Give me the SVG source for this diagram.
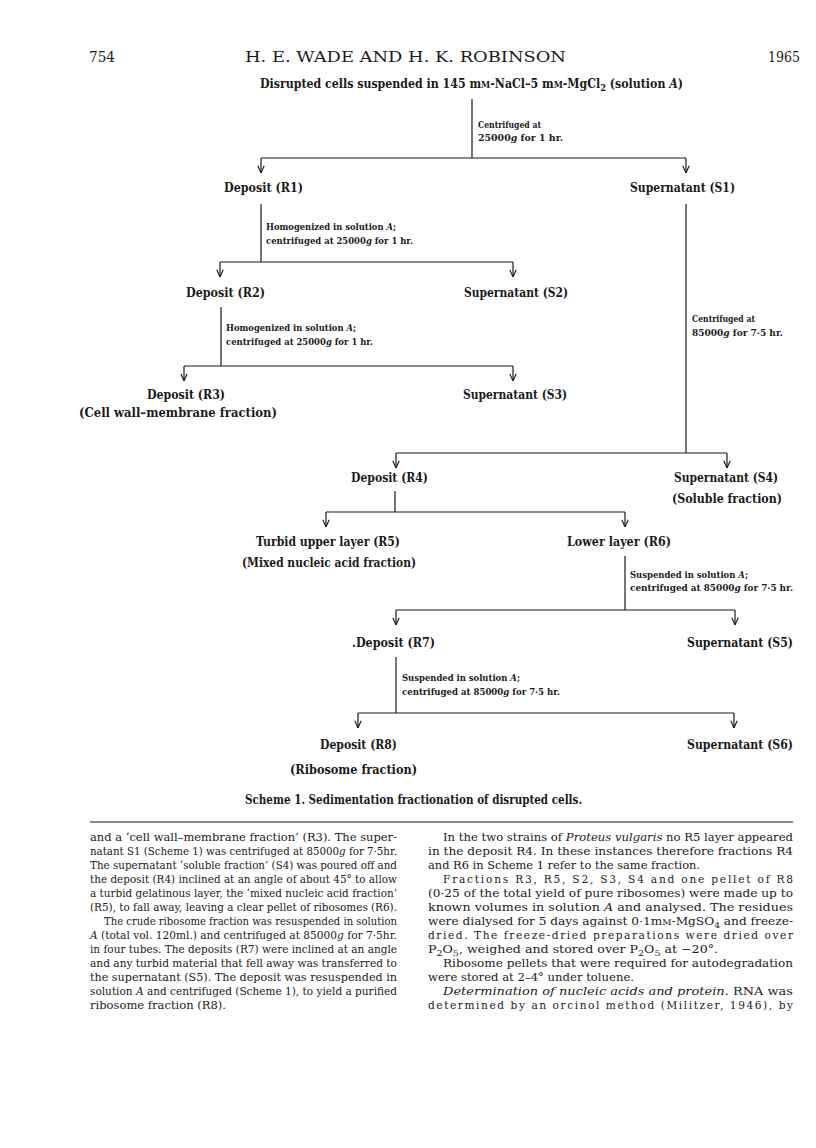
<svg xmlns="http://www.w3.org/2000/svg" width="816" height="1148" viewBox="0 0 816 1148">
<defs>
<marker id="ah" viewBox="0 0 10 10" refX="10" refY="5" markerWidth="8" markerHeight="8" markerUnits="userSpaceOnUse" orient="auto">
<path d="M1,1 L10,5 L1,9" fill="none" stroke="#1a1a1a" stroke-width="1.4"/>
</marker>
<style>
.hd{font-family:"DejaVu Serif","Liberation Serif",serif;font-size:14.5px;fill:#1a1a1a}
.n{font-family:"DejaVu Serif","Liberation Serif",serif;font-weight:bold;font-size:12px;fill:#1a1a1a}
.s{font-family:"DejaVu Serif","Liberation Serif",serif;font-weight:bold;font-size:9px;fill:#1a1a1a}
.b{font-family:"DejaVu Serif","Liberation Serif",serif;font-size:10.6px;fill:#1a1a1a}
.c{fill:none;stroke:#1a1a1a;stroke-width:1.2}
.i{font-style:italic}
.sc{font-size:0.75em}
</style>
</defs>
<rect width="816" height="1148" fill="#ffffff"/>

<g id="header">
<text class="hd" x="89" y="62" textLength="26" lengthAdjust="spacingAndGlyphs">754</text>
<text class="hd" x="245" y="62" textLength="321" lengthAdjust="spacingAndGlyphs">H. E. WADE AND H. K. ROBINSON</text>
<text class="hd" x="768" y="62" textLength="32" lengthAdjust="spacingAndGlyphs">1965</text>
</g>

<g id="connectors">
<path class="c" d="M472,99 V158"/>
<path class="c" d="M261,158 H686"/>
<path class="c" d="M261,158 V173" marker-end="url(#ah)"/>
<path class="c" d="M686,158 V173" marker-end="url(#ah)"/>

<path class="c" d="M261,204 V262"/>
<path class="c" d="M220,262 H513"/>
<path class="c" d="M220,262 V277" marker-end="url(#ah)"/>
<path class="c" d="M513,262 V277" marker-end="url(#ah)"/>

<path class="c" d="M221,307 V366"/>
<path class="c" d="M184,366 H513"/>
<path class="c" d="M184,366 V381" marker-end="url(#ah)"/>
<path class="c" d="M513,366 V381" marker-end="url(#ah)"/>

<path class="c" d="M686,204 V453"/>
<path class="c" d="M396,453 H727"/>
<path class="c" d="M396,453 V468" marker-end="url(#ah)"/>
<path class="c" d="M727,453 V468" marker-end="url(#ah)"/>

<path class="c" d="M395,491 V512"/>
<path class="c" d="M326,512 H625"/>
<path class="c" d="M326,512 V527" marker-end="url(#ah)"/>
<path class="c" d="M625,512 V527" marker-end="url(#ah)"/>

<path class="c" d="M625,556 V610"/>
<path class="c" d="M396,610 H735"/>
<path class="c" d="M396,610 V625" marker-end="url(#ah)"/>
<path class="c" d="M735,610 V625" marker-end="url(#ah)"/>

<path class="c" d="M396,657 V713"/>
<path class="c" d="M358,713 H734"/>
<path class="c" d="M358,713 V728" marker-end="url(#ah)"/>
<path class="c" d="M734,713 V728" marker-end="url(#ah)"/>

<path class="c" d="M90,822 H793" stroke-width="1.6"/>
</g>

<g id="step-labels">
<text class="s" x="478" y="128" textLength="63" lengthAdjust="spacingAndGlyphs">Centrifuged at</text>
<text class="s" x="478" y="141" textLength="85" lengthAdjust="spacingAndGlyphs">25000<tspan class="i">g</tspan> for 1 hr.</text>
<text class="s" x="266" y="230" textLength="130" lengthAdjust="spacingAndGlyphs">Homogenized in solution <tspan class="i">A</tspan>;</text>
<text class="s" x="266" y="244" textLength="147" lengthAdjust="spacingAndGlyphs">centrifuged at 25000<tspan class="i">g</tspan> for 1 hr.</text>
<text class="s" x="226" y="331" textLength="130" lengthAdjust="spacingAndGlyphs">Homogenized in solution <tspan class="i">A</tspan>;</text>
<text class="s" x="226" y="345" textLength="147" lengthAdjust="spacingAndGlyphs">centrifuged at 25000<tspan class="i">g</tspan> for 1 hr.</text>
<text class="s" x="692" y="322" textLength="63" lengthAdjust="spacingAndGlyphs">Centrifuged at</text>
<text class="s" x="692" y="336" textLength="91" lengthAdjust="spacingAndGlyphs">85000<tspan class="i">g</tspan> for 7·5 hr.</text>
<text class="s" x="630" y="578" textLength="118" lengthAdjust="spacingAndGlyphs">Suspended in solution <tspan class="i">A</tspan>;</text>
<text class="s" x="630" y="591" textLength="163" lengthAdjust="spacingAndGlyphs">centrifuged at 85000<tspan class="i">g</tspan> for 7·5 hr.</text>
<text class="s" x="402" y="681" textLength="118" lengthAdjust="spacingAndGlyphs">Suspended in solution <tspan class="i">A</tspan>;</text>
<text class="s" x="402" y="695" textLength="158" lengthAdjust="spacingAndGlyphs">centrifuged at 85000<tspan class="i">g</tspan> for 7·5 hr.</text>
</g>

<g id="start">
<text class="n" x="260" y="88" textLength="423" lengthAdjust="spacingAndGlyphs">Disrupted cells suspended in 145 m<tspan class="sc">M</tspan>-NaCl–5 m<tspan class="sc">M</tspan>-MgCl<tspan class="sc" dy="3">2</tspan><tspan dy="-3"> (solution </tspan><tspan class="i">A</tspan>)</text>
</g>
<g id="R1"><text class="n" x="224" y="192" textLength="79" lengthAdjust="spacingAndGlyphs">Deposit (R1)</text></g>
<g id="S1"><text class="n" x="630" y="192" textLength="105" lengthAdjust="spacingAndGlyphs">Supernatant (S1)</text></g>
<g id="R2"><text class="n" x="186" y="297" textLength="79" lengthAdjust="spacingAndGlyphs">Deposit (R2)</text></g>
<g id="S2"><text class="n" x="464" y="297" textLength="104" lengthAdjust="spacingAndGlyphs">Supernatant (S2)</text></g>
<g id="R3">
<text class="n" x="147" y="399" textLength="78" lengthAdjust="spacingAndGlyphs">Deposit (R3)</text>
<text class="n" x="79" y="417" textLength="198" lengthAdjust="spacingAndGlyphs">(Cell wall–membrane fraction)</text>
</g>
<g id="S3"><text class="n" x="463" y="399" textLength="104" lengthAdjust="spacingAndGlyphs">Supernatant (S3)</text></g>
<g id="R4"><text class="n" x="351" y="482" textLength="77" lengthAdjust="spacingAndGlyphs">Deposit (R4)</text></g>
<g id="S4">
<text class="n" x="674" y="482" textLength="104" lengthAdjust="spacingAndGlyphs">Supernatant (S4)</text>
<text class="n" x="672" y="503" textLength="110" lengthAdjust="spacingAndGlyphs">(Soluble fraction)</text>
</g>
<g id="R5">
<text class="n" x="256" y="546" textLength="144" lengthAdjust="spacingAndGlyphs">Turbid upper layer (R5)</text>
<text class="n" x="242" y="567" textLength="174" lengthAdjust="spacingAndGlyphs">(Mixed nucleic acid fraction)</text>
</g>
<g id="R6"><text class="n" x="567" y="546" textLength="104" lengthAdjust="spacingAndGlyphs">Lower layer (R6)</text></g>
<g id="R7"><text class="n" x="352" y="647" textLength="83" lengthAdjust="spacingAndGlyphs">.Deposit (R7)</text></g>
<g id="S5"><text class="n" x="687" y="647" textLength="106" lengthAdjust="spacingAndGlyphs">Supernatant (S5)</text></g>
<g id="R8">
<text class="n" x="320" y="749" textLength="77" lengthAdjust="spacingAndGlyphs">Deposit (R8)</text>
<text class="n" x="290" y="774" textLength="127" lengthAdjust="spacingAndGlyphs">(Ribosome fraction)</text>
</g>
<g id="S6"><text class="n" x="687" y="749" textLength="106" lengthAdjust="spacingAndGlyphs">Supernatant (S6)</text></g>

<g id="caption">
<text class="n" x="245" y="804" textLength="337" lengthAdjust="spacingAndGlyphs">Scheme 1. Sedimentation fractionation of disrupted cells.</text>
</g>

<g id="body-left">
<text class="b" x="90" y="841" textLength="307" lengthAdjust="spacingAndGlyphs">and a ‘cell wall–membrane fraction’ (R3). The super-</text>
<text class="b" x="90" y="855" textLength="307" lengthAdjust="spacingAndGlyphs">natant S1 (Scheme 1) was centrifuged at 85000<tspan class="i">g</tspan> for 7·5hr.</text>
<text class="b" x="90" y="869" textLength="307" lengthAdjust="spacingAndGlyphs">The supernatant ‘soluble fraction’ (S4) was poured off and</text>
<text class="b" x="90" y="883" textLength="307" lengthAdjust="spacingAndGlyphs">the deposit (R4) inclined at an angle of about 45° to allow</text>
<text class="b" x="90" y="897" textLength="307" lengthAdjust="spacingAndGlyphs">a turbid gelatinous layer, the ‘mixed nucleic acid fraction’</text>
<text class="b" x="90" y="911" textLength="307" lengthAdjust="spacingAndGlyphs">(R5), to fall away, leaving a clear pellet of ribosomes (R6).</text>
<text class="b" x="104" y="925" textLength="293" lengthAdjust="spacingAndGlyphs">The crude ribosome fraction was resuspended in solution</text>
<text class="b" x="90" y="939" textLength="307" lengthAdjust="spacingAndGlyphs"><tspan class="i">A</tspan> (total vol. 120ml.) and centrifuged at 85000<tspan class="i">g</tspan> for 7·5hr.</text>
<text class="b" x="90" y="953" textLength="307" lengthAdjust="spacingAndGlyphs">in four tubes. The deposits (R7) were inclined at an angle</text>
<text class="b" x="90" y="967" textLength="307" lengthAdjust="spacingAndGlyphs">and any turbid material that fell away was transferred to</text>
<text class="b" x="90" y="981" textLength="307" lengthAdjust="spacingAndGlyphs">the supernatant (S5). The deposit was resuspended in</text>
<text class="b" x="90" y="995" textLength="307" lengthAdjust="spacingAndGlyphs">solution <tspan class="i">A</tspan> and centrifuged (Scheme 1), to yield a purified</text>
<text class="b" x="90" y="1009" textLength="136" lengthAdjust="spacingAndGlyphs">ribosome fraction (R8).</text>
</g>

<g id="body-right">
<text class="b" x="443" y="841" textLength="350" lengthAdjust="spacingAndGlyphs">In the two strains of <tspan class="i">Proteus vulgaris</tspan> no R5 layer appeared</text>
<text class="b" x="428" y="855" textLength="365" lengthAdjust="spacingAndGlyphs">in the deposit R4. In these instances therefore fractions R4</text>
<text class="b" x="428" y="869" textLength="272" lengthAdjust="spacingAndGlyphs">and R6 in Scheme 1 refer to the same fraction.</text>
<text class="b" x="443" y="883" textLength="350" lengthAdjust="spacing">Fractions R3, R5, S2, S3, S4 and one pellet of R8</text>
<text class="b" x="428" y="897" textLength="365" lengthAdjust="spacingAndGlyphs">(0·25 of the total yield of pure ribosomes) were made up to</text>
<text class="b" x="428" y="911" textLength="365" lengthAdjust="spacingAndGlyphs">known volumes in solution <tspan class="i">A</tspan> and analysed. The residues</text>
<text class="b" x="428" y="925" textLength="365" lengthAdjust="spacingAndGlyphs">were dialysed for 5 days against 0·1m<tspan class="sc">M</tspan>-MgSO<tspan class="sc" dy="3">4</tspan><tspan dy="-3"> and freeze-</tspan></text>
<text class="b" x="428" y="939" textLength="365" lengthAdjust="spacing">dried. The freeze-dried preparations were dried over</text>
<text class="b" x="428" y="953" textLength="290" lengthAdjust="spacingAndGlyphs">P<tspan class="sc" dy="3">2</tspan><tspan dy="-3">O</tspan><tspan class="sc" dy="3">5</tspan><tspan dy="-3">, weighed and stored over P</tspan><tspan class="sc" dy="3">2</tspan><tspan dy="-3">O</tspan><tspan class="sc" dy="3">5</tspan><tspan dy="-3"> at −20°.</tspan></text>
<text class="b" x="443" y="967" textLength="350" lengthAdjust="spacingAndGlyphs">Ribosome pellets that were required for autodegradation</text>
<text class="b" x="428" y="981" textLength="206" lengthAdjust="spacingAndGlyphs">were stored at 2–4° under toluene.</text>
<text class="b" x="443" y="995" textLength="350" lengthAdjust="spacingAndGlyphs"><tspan class="i">Determination of nucleic acids and protein.</tspan> RNA was</text>
<text class="b" x="428" y="1009" textLength="365" lengthAdjust="spacing">determined by an orcinol method (Militzer, 1946), by</text>
</g>
</svg>
